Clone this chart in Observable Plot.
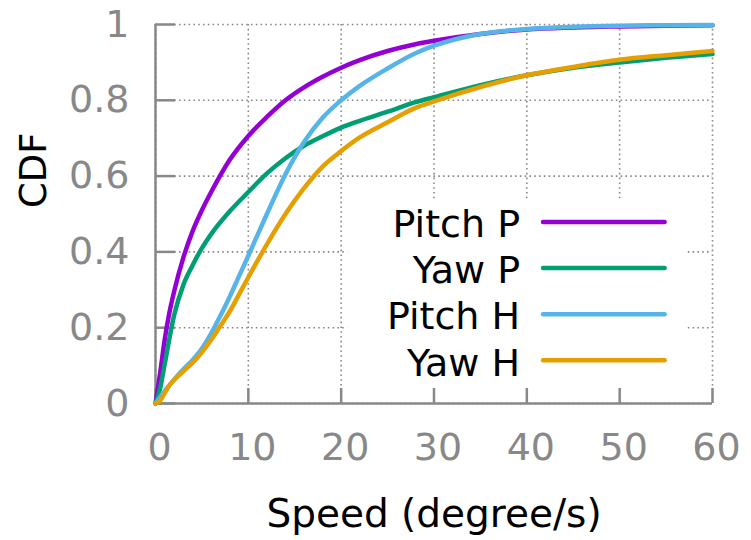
<!DOCTYPE html>
<html>
<head>
<meta charset="utf-8">
<script src="https://cdn.jsdelivr.net/npm/d3@7"></script>
<script src="https://cdn.jsdelivr.net/npm/@observablehq/plot@0.6"></script>
<style>
  html, body { margin: 0; padding: 0; background: #fff; }
  #chart { width: 751px; height: 540px; }
</style>
</head>
<body>
<div id="chart"></div>
<script>
// ---- data ----
const seriesNames = ["Pitch P", "Yaw P", "Pitch H", "Yaw H"];
const seriesColors = ["#9400d3", "#009e73", "#56b4e9", "#e69f00"];

const speedPitchP = [0, 0.5, 1, 1.5, 2, 3, 4, 5, 6, 8, 10, 12, 14, 16, 18, 20, 22, 25, 28, 30, 35, 40, 45, 50, 55, 60];
const cdfPitchP   = [0, 0.08, 0.17, 0.24, 0.295, 0.385, 0.455, 0.51, 0.558, 0.643, 0.706, 0.756, 0.8, 0.834, 0.862, 0.886, 0.906, 0.93, 0.948, 0.957, 0.975, 0.987, 0.992, 0.995, 0.997, 0.998];

const speedYawP = [0, 0.5, 1, 2, 3, 4, 5, 6, 8, 10, 12, 14, 16, 18, 20, 22, 25, 28, 30, 35, 40, 45, 50, 55, 60];
const cdfYawP   = [0, 0.04, 0.105, 0.232, 0.313, 0.365, 0.41, 0.447, 0.507, 0.558, 0.607, 0.647, 0.68, 0.705, 0.728, 0.746, 0.77, 0.795, 0.808, 0.84, 0.866, 0.886, 0.9, 0.912, 0.922];

const speedPitchH = [0, 1, 2, 3, 4, 5, 6, 7, 8, 9, 10, 12, 14, 16, 18, 20, 22, 25, 28, 30, 33, 35, 40, 45, 50, 55, 60];
const cdfPitchH   = [0, 0.033, 0.063, 0.09, 0.115, 0.145, 0.185, 0.232, 0.282, 0.336, 0.39, 0.5, 0.605, 0.69, 0.754, 0.8, 0.838, 0.884, 0.924, 0.944, 0.965, 0.975, 0.988, 0.994, 0.997, 0.998, 0.999];

const speedYawH = [0, 0.5, 1, 1.5, 2, 3, 4, 5, 6, 7, 8, 9, 10, 12, 14, 16, 18, 20, 22, 25, 28, 30, 35, 40, 45, 50, 55, 60];
const cdfYawH   = [0, 0.008, 0.028, 0.048, 0.062, 0.085, 0.108, 0.135, 0.168, 0.205, 0.243, 0.288, 0.333, 0.42, 0.5, 0.568, 0.625, 0.666, 0.702, 0.742, 0.78, 0.797, 0.835, 0.866, 0.888, 0.907, 0.919, 0.93];

const xTicks = [0, 10, 20, 30, 40, 50, 60];
const yTicks = [0, 0.2, 0.4, 0.6, 0.8, 1];
const yTickLabels = ["0", "0.2", "0.4", "0.6", "0.8", "1"];
const xLabel = "Speed (degree/s)";
const yLabel = "CDF";

// ---- build tables ----
const speeds = [speedPitchP, speedYawP, speedPitchH, speedYawH];
const cdfs = [cdfPitchP, cdfYawP, cdfPitchH, cdfYawH];
const rows = [];
seriesNames.forEach((name, i) => {
  speeds[i].forEach((s, j) => rows.push({series: name, speed: s, cdf: cdfs[i][j]}));
});
const legendRows = seriesNames.map((name, i) => ({name, color: seriesColors[i], idx: i}));

// ---- layout ----
const W = 751, H = 540;
const mL = 155, mR = 39, mT = 24, mB = 137;
const pxX = (W - mL - mR) / 60;     // pixels per speed unit
const pxY = (H - mT - mB) / 1;      // pixels per cdf unit
const grey = "#888888";
const font = "DejaVu Sans";

// legend placement (in data units derived from pixel layout)
const legTextX = 39.27, legX1 = 41.8, legX2 = 54.9;
const legY0 = 0.479, legStep = 0.1217;

const chart = Plot.plot({
  width: W, height: H,
  marginLeft: mL, marginRight: mR, marginTop: mT, marginBottom: mB,
  style: {fontFamily: font, background: "#fff"},
  x: {domain: [0, 60], ticks: xTicks},
  y: {domain: [0, 1], ticks: yTicks},
  color: {domain: seriesNames, range: seriesColors},
  marks: [
    // dotted grid
    Plot.ruleX(xTicks, {stroke: grey, strokeWidth: 1.6, strokeDasharray: "1.6,3.2"}),
    Plot.ruleY(yTicks, {stroke: grey, strokeWidth: 1.6, strokeDasharray: "1.6,3.2"}),
    // legend background
    Plot.rect([0], {x1: 20.7, x2: 57.2, y1: 0.006, y2: 0.54, fill: "#fff"}),
    // solid left/bottom frame
    Plot.ruleX([0], {stroke: grey, strokeWidth: 2.5}),
    Plot.ruleY([0], {stroke: grey, strokeWidth: 2.5}),
    // inward ticks
    Plot.ruleY(yTicks, {x1: 0, x2: 20 / pxX, stroke: grey, strokeWidth: 2.5}),
    Plot.ruleX(xTicks, {y1: 0, y2: 15 / pxY, stroke: grey, strokeWidth: 2.5}),
    // axes labels
    Plot.axisX({ticks: xTicks, tickSize: 0, tickPadding: 30, dx: 4, fontSize: 38, color: grey, label: null}),
    Plot.axisY({ticks: yTicks, tickSize: 0, tickPadding: 26, fontSize: 38, color: grey, label: null,
      tickFormat: (d) => yTickLabels[yTicks.indexOf(d)]}),
    Plot.text([xLabel], {frameAnchor: "bottom", dx: 0, dy: 123, fontSize: 39, fill: "#000"}),
    Plot.text([yLabel], {frameAnchor: "left", dx: -121, dy: -6, rotate: -90, fontSize: 37, fill: "#000"}),
    // curves
    Plot.line(rows, {x: "speed", y: "cdf", z: "series", stroke: "series", strokeWidth: 4.5,
      strokeLinecap: "round", strokeLinejoin: "round", curve: "monotone-x"}),
    // legend
    Plot.ruleY(legendRows, {y: (d) => legY0 - d.idx * legStep, x1: legX1, x2: legX2,
      stroke: "color", strokeWidth: 4.5, strokeLinecap: "round"}),
    Plot.text(legendRows, {x: legTextX, y: (d) => legY0 - d.idx * legStep, text: "name", dy: 3,
      textAnchor: "end", fontSize: 38, fill: "#000"})
  ]
});
document.getElementById("chart").appendChild(chart);
</script>
</body>
</html>
